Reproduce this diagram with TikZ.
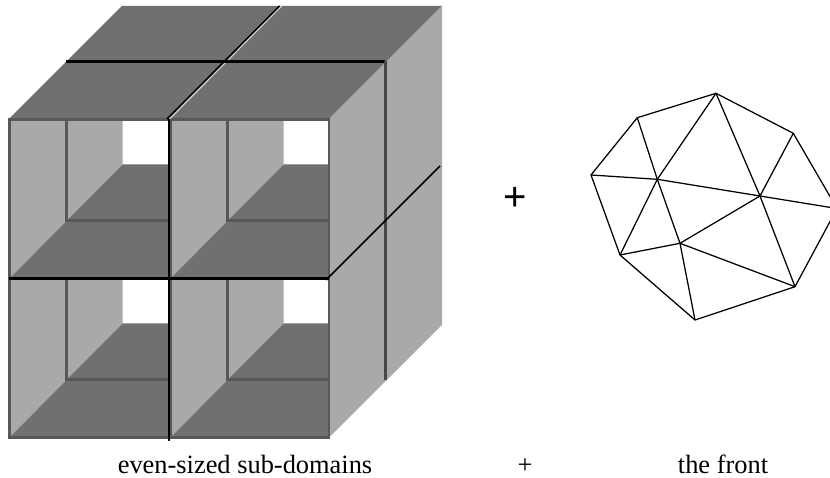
\documentclass[tikz,border=0pt]{standalone}
\usepackage{fontspec}
\setmainfont{Liberation Serif}
\newfontfamily\plusfont{Liberation Sans}
\definecolor{darkface}{HTML}{707070}
\definecolor{lightface}{HTML}{A9A9A9}
\definecolor{edgegray}{HTML}{585858}
\tikzset{
  darkpart/.style={fill=darkface,draw=none},
  lightpart/.style={fill=lightface,draw=none},
  frame/.style={draw=edgegray,line width=2.3pt},
  divider/.style={draw=black,line width=2.3pt},
  mesh/.style={draw=black,line width=1.25pt},
  caption/.style={font=\fontsize{26.4}{30}\selectfont,inner sep=0pt,anchor=base},
}
\newcommand{\cell}[2]{%
  \begin{scope}[shift={(#1,#2)}]
    \fill[lightpart] (0,0) -- (113,0) -- (113,45) -- (0,159) -- cycle;
    \fill[darkpart] (0,159) -- (113,45) -- (159,45) -- (159,159) -- cycle;
    \draw[frame] (57,0) -- (57,101) -- (159,101);
    \draw[frame] (159,159) -- (0,159) -- (0,0) -- (159,0);
  \end{scope}}
\begin{document}
\begin{tikzpicture}[x=1pt,y=-1pt]
\useasboundingbox (0,0) rectangle (830,478);
\clip (0,0) rectangle (830,478);
% outer faces of the cube
\fill[darkpart] (9,119) -- (122,6) -- (442,6) -- (329,119) -- cycle;
\fill[lightpart] (329,119) -- (442,6) -- (442,325) -- (329,437.5) -- cycle;
% four openings
\cell{9.5}{119.5}
\cell{170.5}{119.5}
\cell{9.5}{278.5}
\cell{170.5}{278.5}
\draw[frame] (329,119) -- (329,437.5);
% dividers on the outer faces
\draw[draw=lightface!50!white,line width=1.2pt] (169,119.5) -- (281.5,6);
\coordinate (tl) at (66,61.5);
\coordinate (tr) at (385,61.5);
\coordinate (br) at (385,380);
\coordinate (dt) at (279.5,6);
\coordinate (db) at (167,119);
\coordinate (rt) at (440,166);
\coordinate (rb) at (326,280);
\coordinate (ml) at (9,278.5);
\coordinate (mr) at (329,278.5);
\coordinate (vt) at (168.8,119);
\coordinate (vb) at (168.8,441);
\draw[divider] (tl) -- (tr);
\draw[frame,draw=edgegray!80!black,line width=3pt] (tr) -- (br);
\draw[divider,line width=1.5pt] (dt) -- (db);
\draw[draw=black,line width=1.5pt] (rt) -- (rb);
\draw[divider,line width=2.6pt] (ml) -- (mr);
\draw[divider] (vt) -- (vb);
% the front
\coordinate (A) at (591,175);
\coordinate (B) at (637.3,117.7);
\coordinate (C) at (716,93.3);
\coordinate (D) at (793.3,133.3);
\coordinate (E) at (837,208.5);
\coordinate (F) at (795,286.7);
\coordinate (G) at (695,320);
\coordinate (K) at (620,255);
\coordinate (H) at (760,196);
\coordinate (I) at (657.3,179.3);
\coordinate (J) at (680,243.3);
\draw[mesh,line join=round] (A) -- (B) -- (C) -- (D) -- (E) -- (F) -- (G) -- (K) -- cycle;
\draw[mesh] (A) -- (I);
\draw[mesh] (I) -- (H);
\draw[mesh] (H) -- (E);
\draw[mesh] (B) -- (I);
\draw[mesh] (I) -- (C);
\draw[mesh] (I) -- (K);
\draw[mesh] (I) -- (J);
\draw[mesh] (J) -- (K);
\draw[mesh] (J) -- (H);
\draw[mesh] (J) -- (F);
\draw[mesh] (J) -- (G);
\draw[mesh] (H) -- (C);
\draw[mesh] (H) -- (D);
\draw[mesh] (H) -- (F);
% labels
\node[font=\plusfont\fontsize{40}{42}\selectfont,inner sep=0pt] (bigplus) at (515.5,199) {+};
\node[caption] (lsub) at (245,473) {even-sized sub-domains};
\node[caption] (lplus) at (525,473) {+};
\node[caption] (lfront) at (723,473) {the front};
\end{tikzpicture}
\end{document}
